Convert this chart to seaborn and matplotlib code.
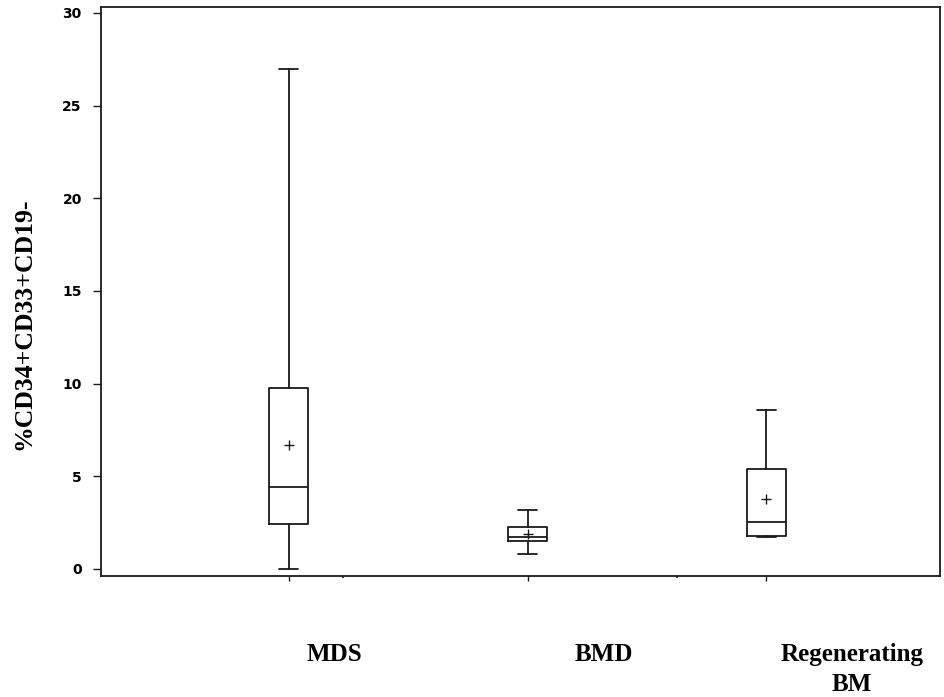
import matplotlib
matplotlib.use("Agg")
import matplotlib.pyplot as plt
import matplotlib.transforms as mtransforms
import seaborn as sns
import pandas as pd

# ---- data ----
groups = ["MDS", "BMD", "Regenerating\nBM"]
whisker_low = [0.0, 0.81, 1.74]
q1 = [2.43, 1.49, 1.78]
median = [4.44, 1.71, 2.55]
q3 = [9.75, 2.28, 5.40]
whisker_high = [27.0, 3.18, 8.58]
mean = [6.71, 1.87, 3.78]
y_ticks = [0, 5, 10, 15, 20, 25, 30]
label_offsets = [0.19, 0.32, 0.36]

sns.set_style("ticks")
plt.rcParams["font.family"] = ["DejaVu Sans"]
plt.rcParams["text.color"] = "black"
plt.rcParams["axes.labelcolor"] = "black"
plt.rcParams["xtick.color"] = "black"
plt.rcParams["ytick.color"] = "black"

fig = plt.figure(figsize=(9.45, 6.97), dpi=100)
ax = fig.add_axes([101 / 945, 1 - 576 / 697, 839 / 945, 569 / 697])

positions = list(range(1, len(groups) + 1))
stats = []
for i, g in enumerate(groups):
    stats.append(dict(label=g, whislo=whisker_low[i], q1=q1[i], med=median[i],
                      q3=q3[i], whishi=whisker_high[i], mean=mean[i], fliers=[]))

lc = "#1a1a1a"
lw = 1.3
ax.bxp(stats, positions=positions, widths=0.163, capwidths=0.08,
       showmeans=False, showfliers=False, patch_artist=False,
       boxprops=dict(color=lc, linewidth=lw),
       medianprops=dict(color=lc, linewidth=lw),
       whiskerprops=dict(color=lc, linewidth=lw),
       capprops=dict(color=lc, linewidth=lw))

df_mean = pd.DataFrame({"pos": positions, "mean": mean})
sns.scatterplot(data=df_mean, x="pos", y="mean", marker="+", s=60,
                color=lc, linewidth=1.0, ax=ax, zorder=5, legend=False)

ax.set_xlim(0.213, 3.728)
ax.set_ylim(-0.38, 30.32)
ax.set_yticks(y_ticks)
ax.set_yticklabels([str(t) for t in y_ticks], fontsize=10, fontweight="bold",
                   color="black")
ax.set_xticks(positions)
ax.set_xticklabels([""] * len(positions))
ax.set_xticks([1.226, 2.628], minor=True)
ax.tick_params(axis="x", which="minor", length=1.5, width=1.2, color=lc)
ax.tick_params(axis="x", which="major", length=3.6, width=1.0, color=lc, direction="out")
ax.tick_params(axis="y", which="major", length=5.8, width=1.0, color=lc, pad=8,
               labelcolor="black")
ax.set_xlabel("")
ax.set_ylabel("")

for s in ["left", "right", "top", "bottom"]:
    ax.spines[s].set_visible(True)
    ax.spines[s].set_color(lc)
    ax.spines[s].set_linewidth(1.3)

trans = mtransforms.blended_transform_factory(ax.transData, ax.transAxes)
for i, g in enumerate(groups):
    ax.text(positions[i] + label_offsets[i], -0.118, g, transform=trans,
            ha="center", va="top", fontsize=18, fontweight="bold",
            family=["Liberation Serif"], linespacing=1.4, color="black")

fig.text(24 / 945, 1 - 324 / 697, "%CD34+CD33+CD19-", rotation=90,
         ha="center", va="center", fontsize=18.5, fontweight="bold",
         family=["Liberation Serif"], color="black")

fig.savefig("out.png", dpi=100)
